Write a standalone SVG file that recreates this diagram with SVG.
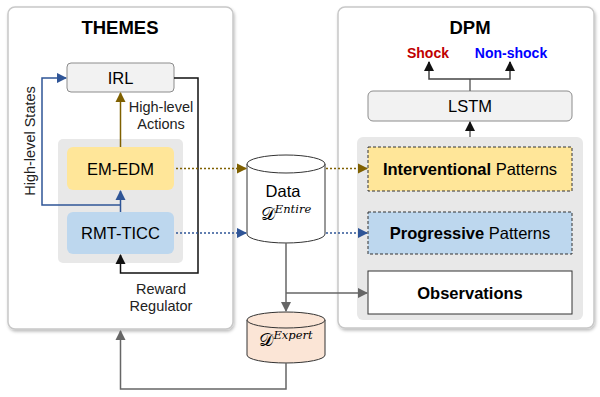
<svg xmlns="http://www.w3.org/2000/svg" width="600" height="397" viewBox="0 0 600 397">
  <style>
    text { font-family: "Liberation Sans", Arial, sans-serif; fill: #000; }
    .title { font-size: 18.5px; font-weight: bold; text-anchor: middle; }
    .lbl { font-size: 16.5px; text-anchor: middle; }
    .small { font-size: 14.5px; text-anchor: middle; fill: #222; }
    .math { font-family: "DejaVu Sans", "DejaVu Serif", serif; }
    .sup { font-family: "DejaVu Serif", "Liberation Serif", serif; font-style: italic; font-size: 11.5px; }
    .panel { fill: #fff; stroke: #c8c8c8; stroke-width: 1.5; }
    .group { fill: #e8e8e8; }
    .grey { fill: #f2f2f2; stroke: #8c8c8c; stroke-width: 1; }
    .yellow { fill: #ffe699; }
    .blue { fill: #bdd7ee; }
    .dash { stroke: #333; stroke-width: 1; stroke-dasharray: 3 2; }
    .line { fill: none; stroke-width: 1.5; }
  </style>
  <defs>
    <filter id="shadow" x="-10%" y="-10%" width="120%" height="120%">
      <feDropShadow dx="1" dy="2" stdDeviation="1.5" flood-color="#000" flood-opacity="0.25"/>
    </filter>
    <marker id="aBrown" viewBox="0 0 10 10" refX="9" refY="5" markerWidth="7" markerHeight="7" orient="auto">
      <path d="M0,0 L10,5 L0,10 z" fill="#7f6000"/>
    </marker>
    <marker id="aBlue" viewBox="0 0 10 10" refX="9" refY="5" markerWidth="7" markerHeight="7" orient="auto">
      <path d="M0,0 L10,5 L0,10 z" fill="#2f5597"/>
    </marker>
    <marker id="aBlack" viewBox="0 0 10 10" refX="9" refY="5" markerWidth="7" markerHeight="7" orient="auto">
      <path d="M0,0 L10,5 L0,10 z" fill="#111"/>
    </marker>
    <marker id="aGrey" viewBox="0 0 10 10" refX="9" refY="5" markerWidth="7" markerHeight="7" orient="auto">
      <path d="M0,0 L10,5 L0,10 z" fill="#666"/>
    </marker>
  </defs>

  <!-- THEMES panel -->
  <g id="themes">
    <rect class="panel" x="8" y="7" width="225" height="322" rx="7" filter="url(#shadow)"/>
    <text class="title" x="120" y="34">THEMES</text>
    <rect class="group" x="58" y="139" width="125" height="124" rx="5"/>
  </g>
  <g id="irl">
    <rect class="grey" x="67" y="63" width="107" height="29" rx="4"/>
    <text class="lbl" x="120.5" y="83.5">IRL</text>
  </g>
  <g id="em-edm">
    <rect class="yellow" x="67" y="147" width="107" height="43" rx="6"/>
    <text class="lbl" x="120.5" y="174.5" font-size="16">EM-EDM</text>
  </g>
  <g id="rmt-ticc">
    <rect class="blue" x="67" y="212" width="107" height="42" rx="6"/>
    <text class="lbl" x="120.5" y="239" font-size="16">RMT-TICC</text>
  </g>

  <!-- DPM panel -->
  <g id="dpm">
    <rect class="panel" x="338" y="7" width="256" height="321" rx="7" filter="url(#shadow)"/>
    <text class="title" x="470" y="34">DPM</text>
    <rect class="group" x="357" y="137" width="226" height="183" rx="6"/>
  </g>
  <g id="shock">
    <text x="428" y="58" style="font-size:14px;font-weight:bold;text-anchor:middle;fill:#c00000">Shock</text>
  </g>
  <g id="non-shock">
    <text x="511" y="58" style="font-size:14px;font-weight:bold;text-anchor:middle;fill:#0000ff">Non-shock</text>
  </g>
  <g id="lstm">
    <rect class="grey" x="368" y="91" width="204" height="30" rx="5"/>
    <text class="lbl" x="470" y="112">LSTM</text>
  </g>
  <g id="interventional">
    <rect class="yellow dash" x="368" y="147" width="204" height="44"/>
    <text class="lbl" x="470" y="175"><tspan font-weight="bold">Interventional</tspan> Patterns</text>
  </g>
  <g id="progressive">
    <rect class="blue dash" x="368" y="212" width="204" height="42"/>
    <text class="lbl" x="470" y="239"><tspan font-weight="bold">Progressive</tspan> Patterns</text>
  </g>
  <g id="observations">
    <rect x="368" y="271" width="204" height="43" fill="#fff" stroke="#333" stroke-width="1"/>
    <text class="lbl" x="470" y="298.5" font-weight="bold">Observations</text>
  </g>

  <!-- Data store -->
  <g id="data">
    <path d="M247,164 L247,234 A39,9 0 0 0 325,234 L325,164" fill="#fff" stroke="#333" stroke-width="1"/>
    <ellipse cx="286" cy="164" rx="39" ry="9" fill="#fff" stroke="#333" stroke-width="1"/>
    <text class="lbl" x="283" y="197">Data</text>
    <text x="286" y="220" style="text-anchor:middle;font-size:18px"><tspan class="math">𝒟</tspan><tspan class="sup" dy="-7">Entire</tspan></text>
  </g>
  <!-- Expert data store -->
  <g id="expert">
    <path d="M247,320 L247,355 A39,8 0 0 0 325,355 L325,320" fill="#fbe5d6" stroke="#333" stroke-width="1"/>
    <ellipse cx="286" cy="320" rx="39" ry="8" fill="#fbe5d6" stroke="#333" stroke-width="1"/>
    <text x="286" y="346" style="text-anchor:middle;font-size:18px"><tspan class="math">𝒟</tspan><tspan class="sup" dy="-7">Expert</tspan></text>
  </g>

  <!-- connectors -->
  <g id="connectors">
    <!-- high-level actions -->
    <line class="line" x1="120.5" y1="147" x2="120.5" y2="93" stroke="#7f6000" marker-end="url(#aBrown)"/>
    <!-- RMT-TICC to EM-EDM, and high-level states to IRL -->
    <line class="line" x1="120.5" y1="212" x2="120.5" y2="191" stroke="#2f5597" stroke-width="1.2" marker-end="url(#aBlue)"/>
    <polyline class="line" points="120.5,205 42,205 42,78 66,78" stroke="#2f5597" stroke-width="1.2" marker-end="url(#aBlue)"/>
    <!-- reward regulator -->
    <polyline class="line" points="174,78 198,78 198,273 120.5,273 120.5,255" stroke="#111" stroke-width="1.2" marker-end="url(#aBlack)"/>
    <!-- dotted pattern flows -->
    <line class="line" x1="176" y1="168.5" x2="246" y2="168.5" stroke="#7f6000" stroke-dasharray="2 2" marker-end="url(#aBrown)"/>
    <line class="line" x1="326" y1="168.5" x2="367" y2="168.5" stroke="#7f6000" stroke-dasharray="2 2" marker-end="url(#aBrown)"/>
    <line class="line" x1="176" y1="233" x2="246" y2="233" stroke="#2f5597" stroke-dasharray="2 2" marker-end="url(#aBlue)"/>
    <line class="line" x1="326" y1="233" x2="367" y2="233" stroke="#2f5597" stroke-dasharray="2 2" marker-end="url(#aBlue)"/>
    <!-- data split -->
    <line class="line" x1="286" y1="243" x2="286" y2="311" stroke="#666" marker-end="url(#aGrey)"/>
    <line class="line" x1="286" y1="293" x2="367" y2="293" stroke="#666" marker-end="url(#aGrey)"/>
    <!-- expert data back to THEMES -->
    <polyline class="line" points="286,363 286,389 120.5,389 120.5,331" stroke="#666" marker-end="url(#aGrey)"/>
    <!-- DPM internal -->
    <line class="line" x1="470" y1="137" x2="470" y2="122" stroke="#666" marker-end="url(#aBlack)"/>
    <line class="line" x1="470" y1="91" x2="470" y2="79" stroke="#666"/>
    <polyline class="line" points="429,63 429,79 510,79 510,63" stroke="#444" stroke-width="1.2"/>
    <line class="line" x1="429" y1="70" x2="429" y2="62" stroke="#111" marker-end="url(#aBlack)"/>
    <line class="line" x1="510" y1="70" x2="510" y2="62" stroke="#111" marker-end="url(#aBlack)"/>
  </g>

  <!-- edge labels -->
  <g id="labels">
    <text class="small" x="161" y="112">High-level</text>
    <text class="small" x="161" y="128.5">Actions</text>
    <text class="small" x="161" y="294">Reward</text>
    <text class="small" x="161" y="311">Regulator</text>
    <text class="small" transform="translate(35,141) rotate(-90)">High-level States</text>
  </g>
</svg>
